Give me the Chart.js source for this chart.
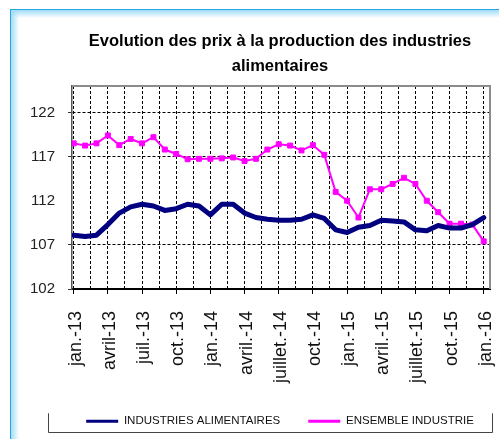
<!DOCTYPE html>
<html><head><meta charset="utf-8">
<script src="https://cdn.jsdelivr.net/npm/chart.js@4"></script>
<style>
html,body{margin:0;padding:0;background:#fff;}
#wrap{position:relative;width:499px;height:439px;overflow:hidden;}
#frame{position:absolute;left:10px;top:9px;right:0;bottom:0;border-left:1px solid #2aa5e2;border-top:1px solid #2aa5e2;
 background:linear-gradient(to right,#9fddf8 0px,rgba(255,255,255,0) 8px),linear-gradient(to bottom,#9fddf8 0px,rgba(255,255,255,0) 8px),#fff;}
canvas{position:absolute;left:0;top:0;}
</style></head>
<body><div id="wrap"><div id="frame"></div><canvas id="c" width="499" height="439" style="width:499px;height:439px"></canvas></div>
<script>
const chartTitle = ['Evolution des prix à la production des industries', 'alimentaires'];
const months = ['janv.-13','févr.-13','mars-13','avr.-13','mai-13','juin-13','juil.-13','août-13','sept.-13','oct.-13','nov.-13','déc.-13',
  'janv.-14','févr.-14','mars-14','avr.-14','mai-14','juin-14','juil.-14','août-14','sept.-14','oct.-14','nov.-14','déc.-14',
  'janv.-15','févr.-15','mars-15','avr.-15','mai-15','juin-15','juil.-15','août-15','sept.-15','oct.-15','nov.-15','déc.-15',
  'janv.-16'];
const industriesAlimentaires = [108.1,107.95,108.1,109.3,110.6,111.3,111.6,111.4,110.9,111.1,111.6,111.4,
  110.4,111.6,111.6,110.6,110.1,109.9,109.8,109.8,109.9,110.4,110.0,108.7,
  108.4,109.0,109.2,109.8,109.7,109.6,108.7,108.6,109.2,108.9,108.9,109.3,
  110.1];
const ensembleIndustrie = [118.5,118.25,118.5,119.4,118.3,119.0,118.5,119.2,117.8,117.3,116.7,116.75,
  116.75,116.8,116.9,116.5,116.75,117.8,118.4,118.25,117.7,118.3,117.2,113.0,
  112.0,110.1,113.3,113.3,113.9,114.6,113.9,112.0,110.7,109.4,109.4,109.3,
  107.4];
const seriesNames = ['INDUSTRIES ALIMENTAIRES', 'ENSEMBLE INDUSTRIE'];
const tickLabels = ['jan.-13','avril-13','juil.-13','oct.-13','jan.-14','avril.-14','juillet.-14','oct.-14','jan.-15','avril.-15','juillet.-15','oct.-15','jan.-16'];
const yTicks = [102,107,112,117,122];
const hiddenGridValues = [112];

const toPoints = arr => arr.map((v, i) => ({x: i, y: v}));
const sans = "'Liberation Sans',Arial,sans-serif";
const LEGEND_FS = 11.5;
const LEGEND_PAD = 28;

const decor = {
  id: 'decor',
  afterLayout(chart, args, opts) {
    const t = chart.titleBlock;
    if (t) { t.left += opts.titleShift; t.right += opts.titleShift; }
    const l = chart.legend;
    if (l) { l.left += opts.legendShift; l.right += opts.legendShift; }
  },
  afterDraw(chart) {
    const {ctx, chartArea: a} = chart;
    ctx.save();
    ctx.strokeStyle = '#8c8c8c';
    ctx.lineWidth = 2;
    ctx.beginPath();
    ctx.moveTo(a.left, a.top); ctx.lineTo(a.right, a.top); ctx.lineTo(a.right, a.bottom);
    ctx.stroke();
    const l = chart.legend;
    if (l) {
      const cy = l.top + LEGEND_PAD + LEGEND_FS / 2;
      const x1 = Math.round(a.left - 24) + 0.5, x2 = Math.round(a.right + 2) + 0.5;
      const yb = Math.round(cy + 11) + 0.5;
      ctx.strokeStyle = '#444';
      ctx.lineWidth = 1;
      ctx.beginPath();
      ctx.moveTo(x1, cy - 8); ctx.lineTo(x1, yb); ctx.lineTo(x2, yb); ctx.lineTo(x2, cy - 8);
      ctx.stroke();
    }
    ctx.restore();
  }
};

new Chart(document.getElementById('c'), {
  type: 'line',
  data: {
    datasets: [
      {
        label: seriesNames[0],
        data: toPoints(industriesAlimentaires),
        borderColor: '#000080',
        backgroundColor: '#000080',
        borderWidth: 5,
        pointRadius: 0,
        tension: 0,
        borderJoinStyle: 'round',
        borderCapStyle: 'round'
      },
      {
        label: seriesNames[1],
        data: toPoints(ensembleIndustrie),
        borderColor: '#ff00ff',
        backgroundColor: '#ff00ff',
        borderWidth: 2,
        pointStyle: 'rect',
        pointRadius: 3.5,
        pointBackgroundColor: '#ff00ff',
        pointBorderColor: '#ff00ff',
        pointBorderWidth: 1,
        tension: 0
      }
    ]
  },
  options: {
    responsive: false,
    animation: false,
    events: [],
    layout: {padding: {left: 0, right: 9, top: 0, bottom: 2}},
    scales: {
      x: {
        type: 'linear',
        min: -0.15,
        max: 36.55,
        afterBuildTicks(scale) {
          const t = [];
          for (let k = 0; k <= (tickLabels.length - 1) * 2; k++) t.push({value: k * 1.5});
          scale.ticks = t;
        },
        afterFit(scale) {
          scale.height = 98.5;
          scale.paddingLeft = 0; scale.paddingRight = 0;
        },
        ticks: {
          autoSkip: false,
          minRotation: 90,
          maxRotation: 90,
          padding: 17,
          labelOffset: 2,
          color: '#111',
          font: {family: sans, size: 18},
          callback(value) {
            return (Math.abs(value % 3) < 1e-6) ? tickLabels[Math.round(value / 3)] : '';
          }
        },
        grid: {
          color: '#000',
          lineWidth: 1,
          tickLength: 5,
          tickColor: ctx => (ctx.tick && Math.abs(ctx.tick.value % 3) < 1e-6) ? '#000' : 'rgba(0,0,0,0)',
          tickWidth: 1
        },
        border: {display: true, color: '#000', width: 2, dash: [3, 2]}
      },
      y: {
        min: 102,
        max: 125,
        afterBuildTicks(scale) { scale.ticks = yTicks.map(v => ({value: v})); },
        afterFit(scale) {
          scale.width = 72;
          scale.paddingTop = 0; scale.paddingBottom = 0;
        },
        ticks: {
          padding: 13,
          color: '#222',
          font: {family: sans, size: 15}
        },
        grid: {
          color: ctx => (ctx.tick && hiddenGridValues.includes(ctx.tick.value)) ? 'rgba(0,0,0,0)' : '#000',
          tickColor: ctx => (ctx.tick && hiddenGridValues.includes(ctx.tick.value)) ? 'rgba(0,0,0,0)' : '#333',
          lineWidth: 1,
          tickLength: 4
        },
        border: {display: true, color: '#555', width: 1.5, dash: [3, 2]}
      }
    },
    plugins: {
      title: {
        display: true,
        text: chartTitle,
        color: '#000',
        font: {family: sans, size: 16.5, weight: 'bold', lineHeight: 1.515},
        padding: {top: 29, bottom: 7}
      },
      legend: {
        display: true,
        position: 'bottom',
        labels: {
          usePointStyle: true,
          pointStyle: 'line',
          pointStyleWidth: 32,
          padding: LEGEND_PAD,
          color: '#111',
          font: {family: sans, size: LEGEND_FS},
          generateLabels(chart) {
            return Chart.defaults.plugins.legend.labels.generateLabels(chart)
              .map(item => Object.assign(item, {lineWidth: 3, pointStyle: 'line'}));
          }
        }
      },
      tooltip: {enabled: false},
      decor: {titleShift: 35, legendShift: 35}
    }
  },
  plugins: [decor]
});
</script>
</body></html>
